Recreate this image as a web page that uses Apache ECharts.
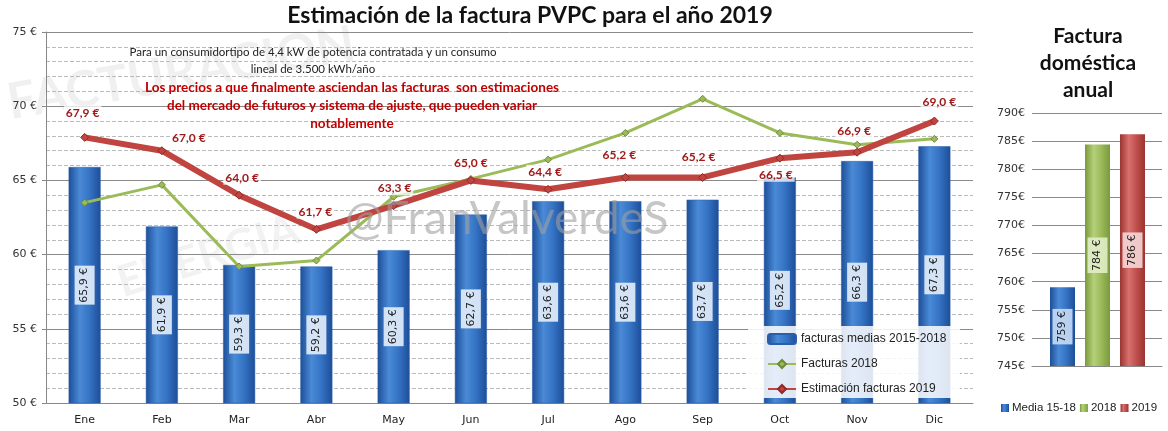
<!DOCTYPE html>
<html lang="es">
<head>
<meta charset="UTF-8">
<title>Estimación de la factura PVPC 2019</title>
<script src="https://cdn.jsdelivr.net/npm/echarts@6/dist/echarts.min.js"></script>
<style>
  html, body { margin: 0; padding: 0; background: #fff; }
  #main { width: 1168px; height: 431px; }
</style>
</head>
<body>
<div id="main"></div>
<script>
// datos
var meses = ['Ene', 'Feb', 'Mar', 'Abr', 'May', 'Jun', 'Jul', 'Ago', 'Sep', 'Oct', 'Nov', 'Dic'];
var mediaFacturas = [65.9, 61.9, 59.3, 59.2, 60.3, 62.7, 63.6, 63.6, 63.7, 65.2, 66.3, 67.3];
var facturas2018 = [63.5, 64.7, 59.2, 59.6, 63.9, 65.1, 66.4, 68.2, 70.5, 68.2, 67.4, 67.8];
var estimacion2019 = [67.9, 67.0, 64.0, 61.7, 63.3, 65.0, 64.4, 65.2, 65.2, 66.5, 66.9, 69.0];
var anualNombres = ['Media 15-18', '2018', '2019'];
var anualValores = [759, 784.4, 786.2];

var myChart = echarts.init(document.getElementById('main'));

function euro(v) { return v.toFixed(1).replace('.', ',') + ' €'; }

// desplazamiento de las etiquetas rojas [x, y]
var offRojo = [[-2, -7], [27, 5], [3, 0], [-1, 0], [1, 0], [0, 0], [-3, 0], [-6, -5], [-4, -3], [-4, 34], [-3, -4], [5, -1]];

function barGrad(c1, c2, c3) {
    return new echarts.graphic.LinearGradient(0, 0, 1, 0, [
        {offset: 0, color: c3}, {offset: 0.35, color: c1}, {offset: 0.65, color: c2}, {offset: 1, color: c3}
    ]);
}

var ejeFont = 'DejaVu Sans';

var option = {
    animation: false,
    title: [{
        text: 'Estimación de la factura PVPC para el año 2019',
        left: 525, top: -1, textAlign: 'center',
        textStyle: {fontFamily: 'Lato', fontSize: 23, fontWeight: 'bold', color: '#111'}
    }, {
        text: 'Factura\ndoméstica\nanual',
        left: 1083, top: 18, textAlign: 'center',
        textStyle: {fontFamily: 'Lato', fontSize: 21, fontWeight: 'bold', color: '#111', lineHeight: 27}
    }],
    graphic: [
        {type: 'text', x: 12, y: 128, rotation: 0.17, z: -10,
         style: {text: 'FACTURACION', font: 'bold 50px "Lato"', fill: 'rgba(0,0,0,0.06)', verticalAlign: 'bottom'}},
        {type: 'text', x: 125, y: 305, rotation: 0.3, z: -10,
         style: {text: 'ENERGIA', font: 'bold 44px "Lato"', fill: 'rgba(0,0,0,0.05)', verticalAlign: 'bottom'}},
        {type: 'text', x: 345, y: 196,
         style: {text: '@FranValverdeS', font: '46px "Lato"', fill: 'rgba(160,160,160,0.6)'}, z: 50},
        {type: 'text', x: 313, y: 44, style: {
            text: 'Para un consumidortipo de 4,4 kW de potencia contratada y un consumo\nlineal de 3.500 kWh/año',
            font: '11.5px "Lato"', fill: '#222', align: 'center', verticalAlign: 'top', lineHeight: 17}, z: 20},
        {type: 'text', x: 352, y: 79, style: {
            text: 'Los precios a que finalmente asciendan las facturas  son estimaciones\ndel mercado de futuros y sistema de ajuste, que pueden variar\nnotablemente',
            font: 'bold 13.5px "Lato"', fill: '#c00000', align: 'center', verticalAlign: 'top', lineHeight: 18}, z: 20},
        {type: 'rect', shape: {x: 748, y: 326, width: 212, height: 72},
         style: {fill: 'rgba(255,255,255,0.85)'}, z: 5}
    ],
    legend: [{
        data: ['facturas medias 2015-2018', 'Facturas 2018', 'Estimación facturas 2019'],
        orient: 'vertical', left: 762, top: 328, itemGap: 13,
        itemWidth: 28, itemHeight: 10,
        textStyle: {fontFamily: 'Liberation Sans', fontSize: 12, color: '#222'}, z: 10
    }, {
        data: anualNombres,
        left: 996, top: 397, itemGap: 4, itemWidth: 8, itemHeight: 8,
        icon: 'rect',
        textStyle: {fontFamily: 'Liberation Sans', fontSize: 11.5, color: '#222', padding: [0, 0, 0, -2]}
    }],
    grid: [
        {left: 46, right: 195, top: 32, bottom: 28},
        {left: 1032, right: 6, top: 113, bottom: 65},
        {left: 1045, right: 18, top: 113, bottom: 65}
    ],
    xAxis: [{
        type: 'category', data: meses, gridIndex: 0,
        axisLine: {lineStyle: {color: '#888'}},
        axisTick: {lineStyle: {color: '#888'}, length: 5},
        axisLabel: {fontFamily: ejeFont, fontSize: 11, color: '#222', margin: 12}
    }, {
        type: 'category', data: anualNombres, gridIndex: 1,
        axisLine: {lineStyle: {color: '#888'}},
        axisTick: {show: false}, axisLabel: {show: false}
    }, {
        type: 'category', data: anualNombres, gridIndex: 2, show: false
    }],
    yAxis: [{
        type: 'value', gridIndex: 0, min: 50, max: 75, interval: 5,
        axisLine: {show: true, lineStyle: {color: '#888'}},
        axisTick: {show: true, length: 4, lineStyle: {color: '#888'}},
        axisLabel: {fontFamily: ejeFont, fontSize: 11, color: '#333', margin: 9, formatter: '{value} €'},
        splitLine: {lineStyle: {color: '#8a8a8a', width: 1}},
        minorTick: {show: false, splitNumber: 5},
        minorSplitLine: {show: true, lineStyle: {color: '#bbb', type: 'dashed'}}
    }, {
        type: 'value', gridIndex: 1, min: 745, max: 790, interval: 5,
        axisLine: {show: false},
        axisTick: {show: false},
        axisLabel: {fontFamily: ejeFont, fontSize: 11, color: '#333', margin: 7, formatter: '{value}€'},
        splitLine: {lineStyle: {color: '#8a8a8a', width: 1}}
    }, {
        type: 'value', gridIndex: 2, min: 745, max: 790, interval: 5, show: false,
        splitLine: {show: false}
    }],
    series: [{
        name: 'facturas medias 2015-2018', type: 'bar', xAxisIndex: 0, yAxisIndex: 0,
        data: mediaFacturas, barWidth: 32,
        itemStyle: {color: barGrad('#4a8ad6', '#3573c4', '#1d4e98'), borderColor: '#2a5fa8', borderWidth: 0.5},
        label: {
            show: true, position: 'inside', rotate: 90,
            formatter: function (p) { return euro(p.value); },
            fontFamily: ejeFont, fontSize: 11, color: '#222',
            backgroundColor: 'rgba(225,235,248,0.92)', padding: [5, 2, 4, 2]
        },
        z: 2
    }, {
        name: 'Facturas 2018', type: 'line', xAxisIndex: 0, yAxisIndex: 0,
        data: facturas2018, symbol: 'diamond', symbolSize: 7,
        lineStyle: {color: '#9bbb59', width: 3},
        itemStyle: {color: '#9bbb59', borderColor: '#6f8a38', borderWidth: 1},
        z: 4
    }, {
        name: 'Estimación facturas 2019', type: 'line', xAxisIndex: 0, yAxisIndex: 0,
        data: estimacion2019.map(function (v, i) {
            return {value: v, label: {offset: offRojo[i]}};
        }),
        symbol: 'diamond', symbolSize: 8,
        lineStyle: {color: '#c0443f', width: 6},
        itemStyle: {color: '#c0443f', borderColor: '#8e2a27', borderWidth: 1},
        label: {
            show: true, position: 'top', distance: 6,
            formatter: function (p) { return euro(p.value); },
            fontFamily: 'Lato', fontWeight: 'bold', fontSize: 12, color: '#a11a1a',
            backgroundColor: 'rgba(255,255,255,0.75)', padding: [1, 2]
        },
        z: 5
    }, {
        name: 'Media 15-18', type: 'bar', xAxisIndex: 2, yAxisIndex: 2, stack: 'anual',
        data: [anualValores[0], '-', '-'], barWidth: 25,
        itemStyle: {color: barGrad('#4a8ad6', '#3573c4', '#1d4e98')}
    }, {
        name: '2018', type: 'bar', xAxisIndex: 2, yAxisIndex: 2, stack: 'anual',
        data: ['-', anualValores[1], '-'], barWidth: 25,
        itemStyle: {color: barGrad('#b5d07a', '#9bbb59', '#7a9a3c')}
    }, {
        name: '2019', type: 'bar', xAxisIndex: 2, yAxisIndex: 2, stack: 'anual',
        data: ['-', '-', anualValores[2]], barWidth: 25,
        itemStyle: {color: barGrad('#d8716e', '#c0504d', '#9a3431')}
    }]
};

// etiquetas de las barras anuales
var fondos = ['rgba(200,220,245,0.9)', 'rgba(225,238,200,0.9)', 'rgba(245,215,215,0.9)'];
[3, 4, 5].forEach(function (s, i) {
    option.series[s].label = {
        show: true, position: 'inside', rotate: 90,
        formatter: function (p) { return Math.round(p.value) + ' €'; },
        fontFamily: ejeFont, fontSize: 11, color: '#222',
        backgroundColor: fondos[i], padding: [5, 2, 4, 2]
    };
});

myChart.setOption(option);
</script>
</body>
</html>
